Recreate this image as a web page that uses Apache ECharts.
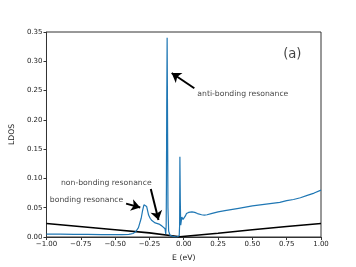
<!DOCTYPE html>
<html>
<head>
<meta charset="utf-8">
<script src="https://cdn.jsdelivr.net/npm/echarts@6/dist/echarts.min.js"></script>
<style>html,body{margin:0;padding:0;background:#fff}#c{width:356px;height:267px}</style>
</head>
<body>
<div id="c"></div>
<script>
// Blue LDOS curve (E in eV, LDOS)
const eBlue = [-1.00,-0.90,-0.80,-0.70,-0.60,-0.50,-0.45,-0.40,-0.37,-0.35,-0.33,-0.31,-0.30,-0.29,-0.281,-0.27,-0.256,-0.245,-0.232,-0.22,-0.208,-0.195,-0.18,-0.17,-0.16,-0.148,-0.136,-0.131,-0.128,-0.126,-0.124,-0.121,-0.118,-0.115,-0.11,-0.10,-0.08,-0.05,-0.038,-0.033,-0.030,-0.028,-0.025,-0.022,-0.018,-0.014,-0.010,-0.005,0.000,0.006,0.012,0.02,0.035,0.06,0.08,0.10,0.13,0.15,0.17,0.20,0.25,0.30,0.40,0.50,0.60,0.70,0.75,0.80,0.85,0.90,0.95,1.00];
const ldosBlue = [0.005,0.0048,0.0046,0.0044,0.0042,0.004,0.004,0.0045,0.006,0.009,0.016,0.032,0.045,0.055,0.0575,0.052,0.0375,0.032,0.028,0.025,0.024,0.025,0.022,0.019,0.019,0.022,0.014,0.005,0.02,0.09,0.22,0.34,0.2,0.05,0.01,0.003,0.001,0.0,0.0,0.002,0.02,0.137,0.06,0.02,0.022,0.034,0.035,0.03,0.028,0.031,0.036,0.04,0.042,0.043,0.042,0.040,0.038,0.0375,0.038,0.040,0.043,0.045,0.049,0.053,0.056,0.059,0.062,0.064,0.067,0.071,0.075,0.080];
// Black reference curve
const eBlack = [-1.00,-0.50,-0.25,-0.03,0.25,0.50,0.75,1.00];
const ldosBlack = [0.023,0.0125,0.007,0.0005,0.0065,0.0125,0.018,0.023];
// Axis ticks
const xTicks = [-1.00,-0.75,-0.50,-0.25,0.00,0.25,0.50,0.75,1.00];
const yTicks = [0.00,0.05,0.10,0.15,0.20,0.25,0.30,0.35];
// Annotations
const annTexts = ['anti-bonding resonance','non-bonding resonance','bonding resonance','(a)'];
const annE = [0.099,-0.564,-0.708,0.791];
const annV = [0.2435,0.0927,0.063,0.311];
const arrowFromE = [0.077,-0.240,-0.420];
const arrowFromV = [0.254,0.082,0.057];
const arrowToE = [-0.088,-0.184,-0.317];
const arrowToV = [0.280,0.029,0.0505];

const fmt = v => (v < 0 ? '\u2212' : '') + Math.abs(v).toFixed(2);
const font = 'DejaVu Sans';

const chart = echarts.init(document.getElementById('c'), null, {renderer:'canvas'});
chart.setOption({
  animation:false,
  backgroundColor:'#fff',
  grid:{left:43.5,right:35,top:32,bottom:30,show:true,borderColor:'#333',borderWidth:1,backgroundColor:'transparent'},
  xAxis:{type:'value',min:xTicks[0],max:xTicks[xTicks.length-1],interval:0.25,
    name:'E (eV)',nameLocation:'middle',nameGap:17,
    nameTextStyle:{fontFamily:font,fontSize:7.7,color:'#222'},
    axisLine:{onZero:false,lineStyle:{color:'#333',width:1}},
    axisTick:{show:true,length:3,lineStyle:{color:'#333'}},
    axisLabel:{formatter:fmt,fontFamily:font,fontSize:7,color:'#222',margin:4},
    splitLine:{show:false}},
  yAxis:{type:'value',min:yTicks[0],max:yTicks[yTicks.length-1],interval:0.05,
    name:'LDOS',nameLocation:'middle',nameGap:29,
    nameTextStyle:{fontFamily:font,fontSize:7.7,color:'#222'},
    axisLine:{show:true,onZero:false,lineStyle:{color:'#333',width:1}},
    axisTick:{show:true,length:3,lineStyle:{color:'#333'}},
    axisLabel:{formatter:v=>v.toFixed(2),fontFamily:font,fontSize:7,color:'#222',margin:4},
    splitLine:{show:false}},
  series:[
    {type:'line',data:eBlack.map((e,i)=>[e,ldosBlack[i]]),showSymbol:false,
     lineStyle:{color:'#000',width:1.6},z:2},
    {type:'line',data:eBlue.map((e,i)=>[e,ldosBlue[i]]),showSymbol:false,
     lineStyle:{color:'#1f77b4',width:1.2},z:3},
    {type:'line',data:[],z:6,
     markLine:{silent:true,symbol:['none','arrow'],symbolSize:9,
       label:{show:false},
       itemStyle:{color:'#000'},
       lineStyle:{color:'#000',width:2,type:'solid'},
       data:arrowFromE.map((e,i)=>[{coord:[e,arrowFromV[i]]},{coord:[arrowToE[i],arrowToV[i]]}])}},
    {type:'scatter',symbolSize:0,z:5,
     data:annTexts.map((t,i)=>({value:[annE[i],annV[i]],
       label:{show:true,position:'inside',formatter:t,fontFamily:font,
         fontSize:i===3?13.2:7.7,color:'#111',align:i===0?'left':'center',verticalAlign:'middle'}}))}
  ]
});
</script>
</body>
</html>
